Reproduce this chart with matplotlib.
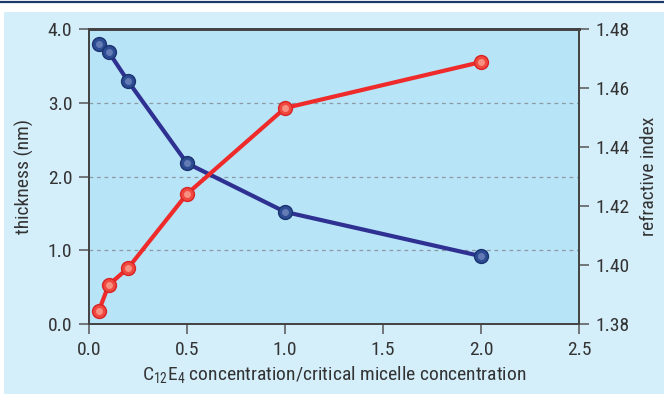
import matplotlib
matplotlib.use("Agg")
import matplotlib.pyplot as plt
from matplotlib.patches import Rectangle
from matplotlib.lines import Line2D

# data
conc = [0.05, 0.1, 0.2, 0.5, 1.0, 2.0]
thickness = [3.80, 3.69, 3.29, 2.18, 1.52, 0.92]
refr_index = [1.3844, 1.3932, 1.3990, 1.4241, 1.4532, 1.4688]

x_ticks = [0.0, 0.5, 1.0, 1.5, 2.0, 2.5]
left_ticks = [0.0, 1.0, 2.0, 3.0, 4.0]
right_ticks = [1.38, 1.40, 1.42, 1.44, 1.46, 1.48]

FONT = 'Roboto Condensed'
plt.rcParams['font.family'] = [FONT, 'Liberation Sans', 'DejaVu Sans']
plt.rcParams['mathtext.fontset'] = 'custom'
plt.rcParams['mathtext.rm'] = FONT

PANEL = '#d4eefa'
PLOT_BG = '#b8e4f8'
BLUE = '#2e3192'
RED = '#ee2a2a'
TXT = '#333333'
SPINE = '#444444'

fig = plt.figure(figsize=(6.64, 3.94), dpi=100)
fig.patch.set_facecolor('white')
fig.patches.append(Rectangle((4 / 664, 0), 1, 1 - 12 / 394, transform=fig.transFigure,
                             facecolor=PANEL, edgecolor='none', zorder=-10))
fig.lines.append(Line2D([0, 1], [1 - 1.5 / 394] * 2, transform=fig.transFigure,
                        color='#1d3a6b', lw=1.6, zorder=-10))

ax = fig.add_axes([89 / 664, 70 / 394, 490 / 664, 295 / 394])
ax.set_facecolor(PLOT_BG)
ax2 = ax.twinx()

ax.set_xlim(0, 2.5)
ax.set_ylim(0, 4.0)
ax2.set_ylim(1.38, 1.48)

for y in [1.0, 2.0, 3.0]:
    ax.axhline(y, color='#8c9aa3', lw=0.9, ls=(0, (3, 3)), zorder=1)

ax.plot(conc, thickness, color=BLUE, lw=3, zorder=3, solid_capstyle='round')
ax.plot(conc, thickness, ls='none', marker='o', ms=10, mfc='#2c4c93', mec='#1b3470',
        mew=1, zorder=4)
ax.plot(conc, thickness, ls='none', marker='o', ms=5, mfc='#7d8fc4', mec='none',
        alpha=0.7, zorder=5)

ax2.plot(conc, refr_index, color=RED, lw=3, zorder=3, solid_capstyle='round')
ax2.plot(conc, refr_index, ls='none', marker='o', ms=10, mfc='#f0483e', mec='#d82424',
         mew=1, zorder=4)
ax2.plot(conc, refr_index, ls='none', marker='o', ms=5, mfc='#f8a393', mec='none',
         alpha=0.8, zorder=5)

ax.set_xticks(x_ticks)
ax.set_xticklabels([f'{v:.1f}' for v in x_ticks])
ax.set_yticks(left_ticks)
ax.set_yticklabels([f'{v:.1f}' for v in left_ticks])
ax2.set_yticks(right_ticks)
ax2.set_yticklabels([f'{v:.2f}' for v in right_ticks])

for a in (ax, ax2):
    for s in a.spines.values():
        s.set_color(SPINE)
        s.set_linewidth(1.3)
    a.spines['top'].set_linewidth(2)
    a.tick_params(length=7.5, width=1.1, color='#555555', labelsize=14, labelcolor=TXT,
                  pad=4.5)

ax.set_ylabel('thickness (nm)', fontsize=14, color=TXT, labelpad=10)
ax2.set_ylabel('refractive index', fontsize=14, color=TXT, labelpad=7)
ax.set_xlabel(r'$\mathregular{C_{12}E_4}$ concentration/critical micelle concentration',
              fontsize=14, color=TXT, labelpad=4)

fig.savefig('out.png', dpi=100, facecolor=fig.get_facecolor())
